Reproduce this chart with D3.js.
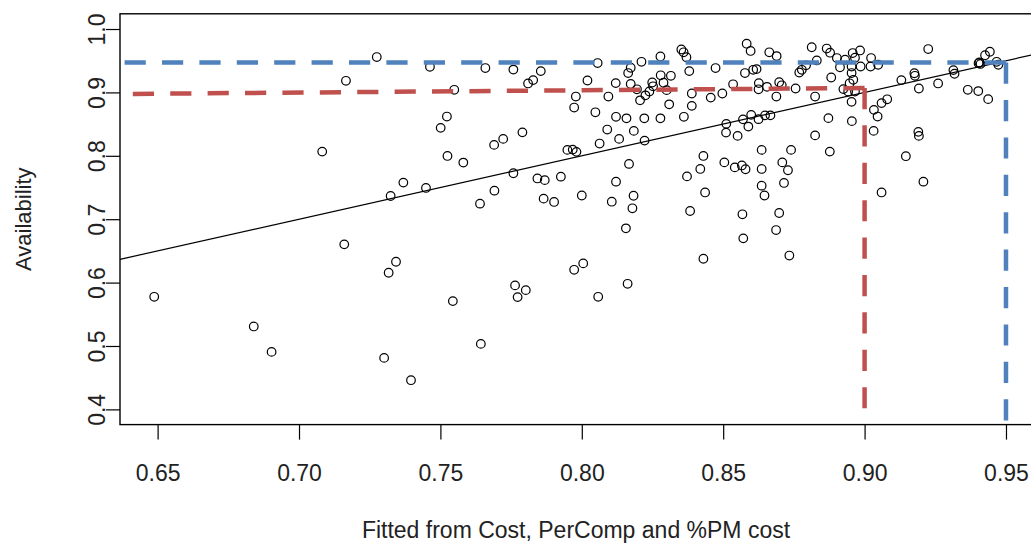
<!DOCTYPE html>
<html>
<head>
<meta charset="utf-8">
<script src="https://cdn.jsdelivr.net/npm/d3@7"></script>
<style>
  html, body { margin: 0; padding: 0; background: #fff; }
  svg { display: block; font-family: "Liberation Sans", Arial, sans-serif; }
</style>
</head>
<body>
<svg id="chart" width="1031" height="548"></svg>
<script>
// Fitted availability (from Cost, PerComp and %PM cost) against observed availability
const fitted = [0.6488,0.6840,0.6903,0.7082,0.7160,0.7166,0.7275,0.7301,0.7317,0.7324,
0.7343,0.7369,0.7396,0.7449,0.7463,0.7501,0.7523,0.7525,0.7544,0.7549,
0.7581,0.7640,0.7643,0.7659,0.7690,0.7691,0.7722,0.7758,0.7758,0.7764,
0.7773,0.7802,0.7790,0.7810,0.7828,0.7855,0.7843,0.7869,0.7865,0.7902,
0.7926,0.7949,0.7968,0.7981,0.7973,0.7979,0.7973,0.8005,0.8000,0.8020,
0.8048,0.8056,0.8058,0.8063,0.8090,0.8094,0.8106,0.8120,0.8121,0.8121,
0.8132,0.8158,0.8156,0.8162,0.8167,0.8164,0.8173,0.8173,0.8184,0.8183,
0.8179,0.8195,0.8206,0.8211,0.8221,0.8222,0.8225,0.8239,0.8252,0.8249,
0.8278,0.8279,0.8289,0.8300,0.8315,0.8309,0.8278,0.8352,0.8360,0.8370,
0.8380,0.8389,0.8389,0.8361,0.8372,0.8419,0.8430,0.8436,0.8383,0.8430,
0.8456,0.8473,0.8497,0.8535,0.8504,0.8541,0.8566,0.8579,0.8511,0.8510,
0.8551,0.8568,0.8571,0.8583,0.8597,0.8577,0.8570,0.8589,0.8599,0.8606,
0.8618,0.8626,0.8625,0.8625,0.8648,0.8667,0.8636,0.8636,0.8636,0.8646,
0.8655,0.8663,0.8689,0.8698,0.8707,0.8688,0.8709,0.8729,0.8740,0.8715,
0.8698,0.8687,0.8734,0.8756,0.8769,0.8778,0.8793,0.8813,0.8831,0.8825,
0.8825,0.8866,0.8878,0.8902,0.8882,0.8872,0.8877,0.8913,0.8931,0.8958,
0.8984,0.8966,0.8954,0.8954,0.8986,0.8960,0.8947,0.8925,0.8942,0.8966,
0.8954,0.8955,0.9023,0.9021,0.9048,0.9033,0.9046,0.9060,0.9080,0.9032,
0.9060,0.9130,0.9176,0.9178,0.9192,0.9146,0.9190,0.9192,0.9208,0.9225,
0.9260,0.9314,0.9318,0.9365,0.9402,0.9437,0.9406,0.9410,0.9403,0.9426,
0.9443,0.9467,0.9473];

const availability = [0.5776,0.5308,0.4907,0.8066,0.6603,0.9183,0.9558,0.4812,0.6155,0.7366,
0.6329,0.7577,0.4460,0.7493,0.9404,0.8441,0.8619,0.7998,0.5708,0.9041,
0.7893,0.7245,0.5033,0.9384,0.8172,0.7450,0.8267,0.9360,0.7725,0.5956,
0.5771,0.5881,0.8370,0.9141,0.9194,0.9336,0.7643,0.7616,0.7324,0.7272,
0.7671,0.8093,0.8098,0.8062,0.8761,0.8935,0.6202,0.6303,0.7374,0.9188,
0.8686,0.9463,0.5776,0.8193,0.8414,0.8935,0.7276,0.9147,0.8615,0.7592,
0.8267,0.8591,0.6856,0.5981,0.7872,0.9305,0.9389,0.9133,0.8393,0.7370,
0.7172,0.9049,0.8875,0.9483,0.8591,0.8240,0.8954,0.9014,0.9096,0.9156,
0.9567,0.9270,0.9152,0.9036,0.9262,0.8812,0.8591,0.9678,0.9633,0.9555,
0.9336,0.8983,0.8788,0.8615,0.7675,0.7793,0.7998,0.7422,0.7129,0.6376,
0.8918,0.9384,0.8983,0.9128,0.7896,0.7817,0.7848,0.7788,0.8504,0.8366,
0.8314,0.7077,0.6698,0.9768,0.9654,0.9305,0.8575,0.8461,0.8646,0.9357,
0.9368,0.9147,0.9049,0.8578,0.8638,0.8638,0.8093,0.7793,0.7529,0.7374,
0.9088,0.9633,0.9573,0.9160,0.9112,0.8935,0.7896,0.7772,0.8093,0.7572,
0.7098,0.6829,0.6427,0.9062,0.9314,0.9357,0.9428,0.9712,0.9504,0.8935,
0.8322,0.9692,0.9626,0.9542,0.9235,0.8594,0.8066,0.9397,0.9515,0.9621,
0.9662,0.9547,0.9409,0.9305,0.9409,0.9199,0.9144,0.9052,0.9014,0.9014,
0.8851,0.8547,0.9542,0.9409,0.9436,0.8725,0.8619,0.8831,0.8891,0.8393,
0.7422,0.9194,0.9302,0.9262,0.9062,0.7994,0.8378,0.8314,0.7592,0.9684,
0.9141,0.9352,0.9294,0.9041,0.9021,0.8894,0.9472,0.9449,0.9460,0.9586,
0.9641,0.9483,0.9436];

// Axis ticks
const xTicks = [0.65, 0.70, 0.75, 0.80, 0.85, 0.90, 0.95];
const yTicks = [0.4, 0.5, 0.6, 0.7, 0.8, 0.9, 1.0];

// Regression of availability on fitted values
const fitIntercept = 0;
const fitSlope = 1;

// Target levels: 90% (red) and 95% (blue)
const redTarget  = { x: 0.90, yCorner: 0.907, yLeft: 0.898 };
const blueTarget = { x: 0.95, yCorner: 0.947, yLeft: 0.947 };

const xLabel = "Fitted from Cost, PerComp and %PM cost";
const yLabel = "Availability";

const svg = d3.select("#chart");
const plot = { left: 120, right: 1032, top: 13.8, bottom: 424.6 };

const x = d3.scaleLinear().domain([0.6367, 0.9592]).range([plot.left, plot.right]);
const y = d3.scaleLinear().domain([0.376, 1.024]).range([plot.bottom, plot.top]);

svg.append("rect").attr("width", 1031).attr("height", 548).attr("fill", "#fff");

// clip region for lines inside the plot box
svg.append("defs").append("clipPath").attr("id", "plotClip")
  .append("rect")
  .attr("x", plot.left - 2).attr("y", plot.top - 2)
  .attr("width", plot.right - plot.left + 10)
  .attr("height", plot.bottom - plot.top + 2.5);

const points = fitted.map((f, i) => ({ x: f, y: availability[i] }));

// scatter
svg.append("g")
  .selectAll("circle")
  .data(points)
  .join("circle")
  .attr("cx", d => x(d.x))
  .attr("cy", d => y(d.y))
  .attr("r", 4.3)
  .attr("fill", "none")
  .attr("stroke", "#000")
  .attr("stroke-width", 1.2);

const lines = svg.append("g").attr("clip-path", "url(#plotClip)");

// fitted regression line
const xd = x.domain();
lines.append("line")
  .attr("x1", x(xd[0])).attr("y1", y(fitIntercept + fitSlope * xd[0]))
  .attr("x2", x(xd[1])).attr("y2", y(fitIntercept + fitSlope * xd[1]))
  .attr("stroke", "#000")
  .attr("stroke-width", 1.2);

// dashed target guides, each segment drawn outward from its corner
function guide(t, color) {
  const dash = "21.2 16.2";
  lines.append("line")
    .attr("x1", x(t.x)).attr("y1", y(t.yCorner))
    .attr("x2", x(xd[0]) - 30).attr("y2", y(t.yLeft + (t.yLeft - t.yCorner) * 0.1))
    .attr("stroke", color).attr("stroke-width", 4.5)
    .attr("stroke-dasharray", dash);
  lines.append("line")
    .attr("x1", x(t.x)).attr("y1", y(t.yCorner))
    .attr("x2", x(t.x)).attr("y2", y(0.3))
    .attr("stroke", color).attr("stroke-width", 4.5)
    .attr("stroke-dasharray", dash);
}
guide(redTarget, "#C0504D");
guide(blueTarget, "#4F81BD");

// axes
const xAxis = svg.append("g")
  .attr("transform", `translate(0,${plot.bottom})`)
  .call(d3.axisBottom(x).tickValues(xTicks).tickSize(15).tickPadding(25).tickFormat(d3.format(".2f")));
xAxis.select(".domain").remove();
xAxis.selectAll(".tick line").attr("stroke", "#000").attr("stroke-width", 1.2);
xAxis.selectAll(".tick text")
  .attr("font-size", 23).attr("fill", "#222")
  .attr("font-family", "'Liberation Sans', Arial, sans-serif");

const yAxis = svg.append("g")
  .attr("transform", `translate(${plot.left},0)`)
  .call(d3.axisLeft(y).tickValues(yTicks).tickSize(14).tickFormat(d3.format(".1f")));
yAxis.select(".domain").remove();
yAxis.selectAll(".tick line").attr("stroke", "#000").attr("stroke-width", 1.2);
yAxis.selectAll(".tick text")
  .attr("x", null).attr("dy", null)
  .attr("text-anchor", "middle")
  .attr("transform", "translate(-15,0) rotate(-90)")
  .attr("font-size", 23).attr("fill", "#222")
  .attr("font-family", "'Liberation Sans', Arial, sans-serif");

// plot box
svg.append("rect")
  .attr("x", plot.left).attr("y", plot.top)
  .attr("width", plot.right - plot.left).attr("height", plot.bottom - plot.top)
  .attr("fill", "none").attr("stroke", "#000").attr("stroke-width", 1.4);

// axis titles
svg.append("text")
  .attr("x", (plot.left + plot.right) / 2).attr("y", 538)
  .attr("text-anchor", "middle").attr("font-size", 23).attr("fill", "#222")
  .text(xLabel);

svg.append("text")
  .attr("transform", `translate(31,${(plot.top + plot.bottom) / 2}) rotate(-90)`)
  .attr("text-anchor", "middle").attr("font-size", 22).attr("fill", "#222")
  .text(yLabel);
</script>
</body>
</html>
